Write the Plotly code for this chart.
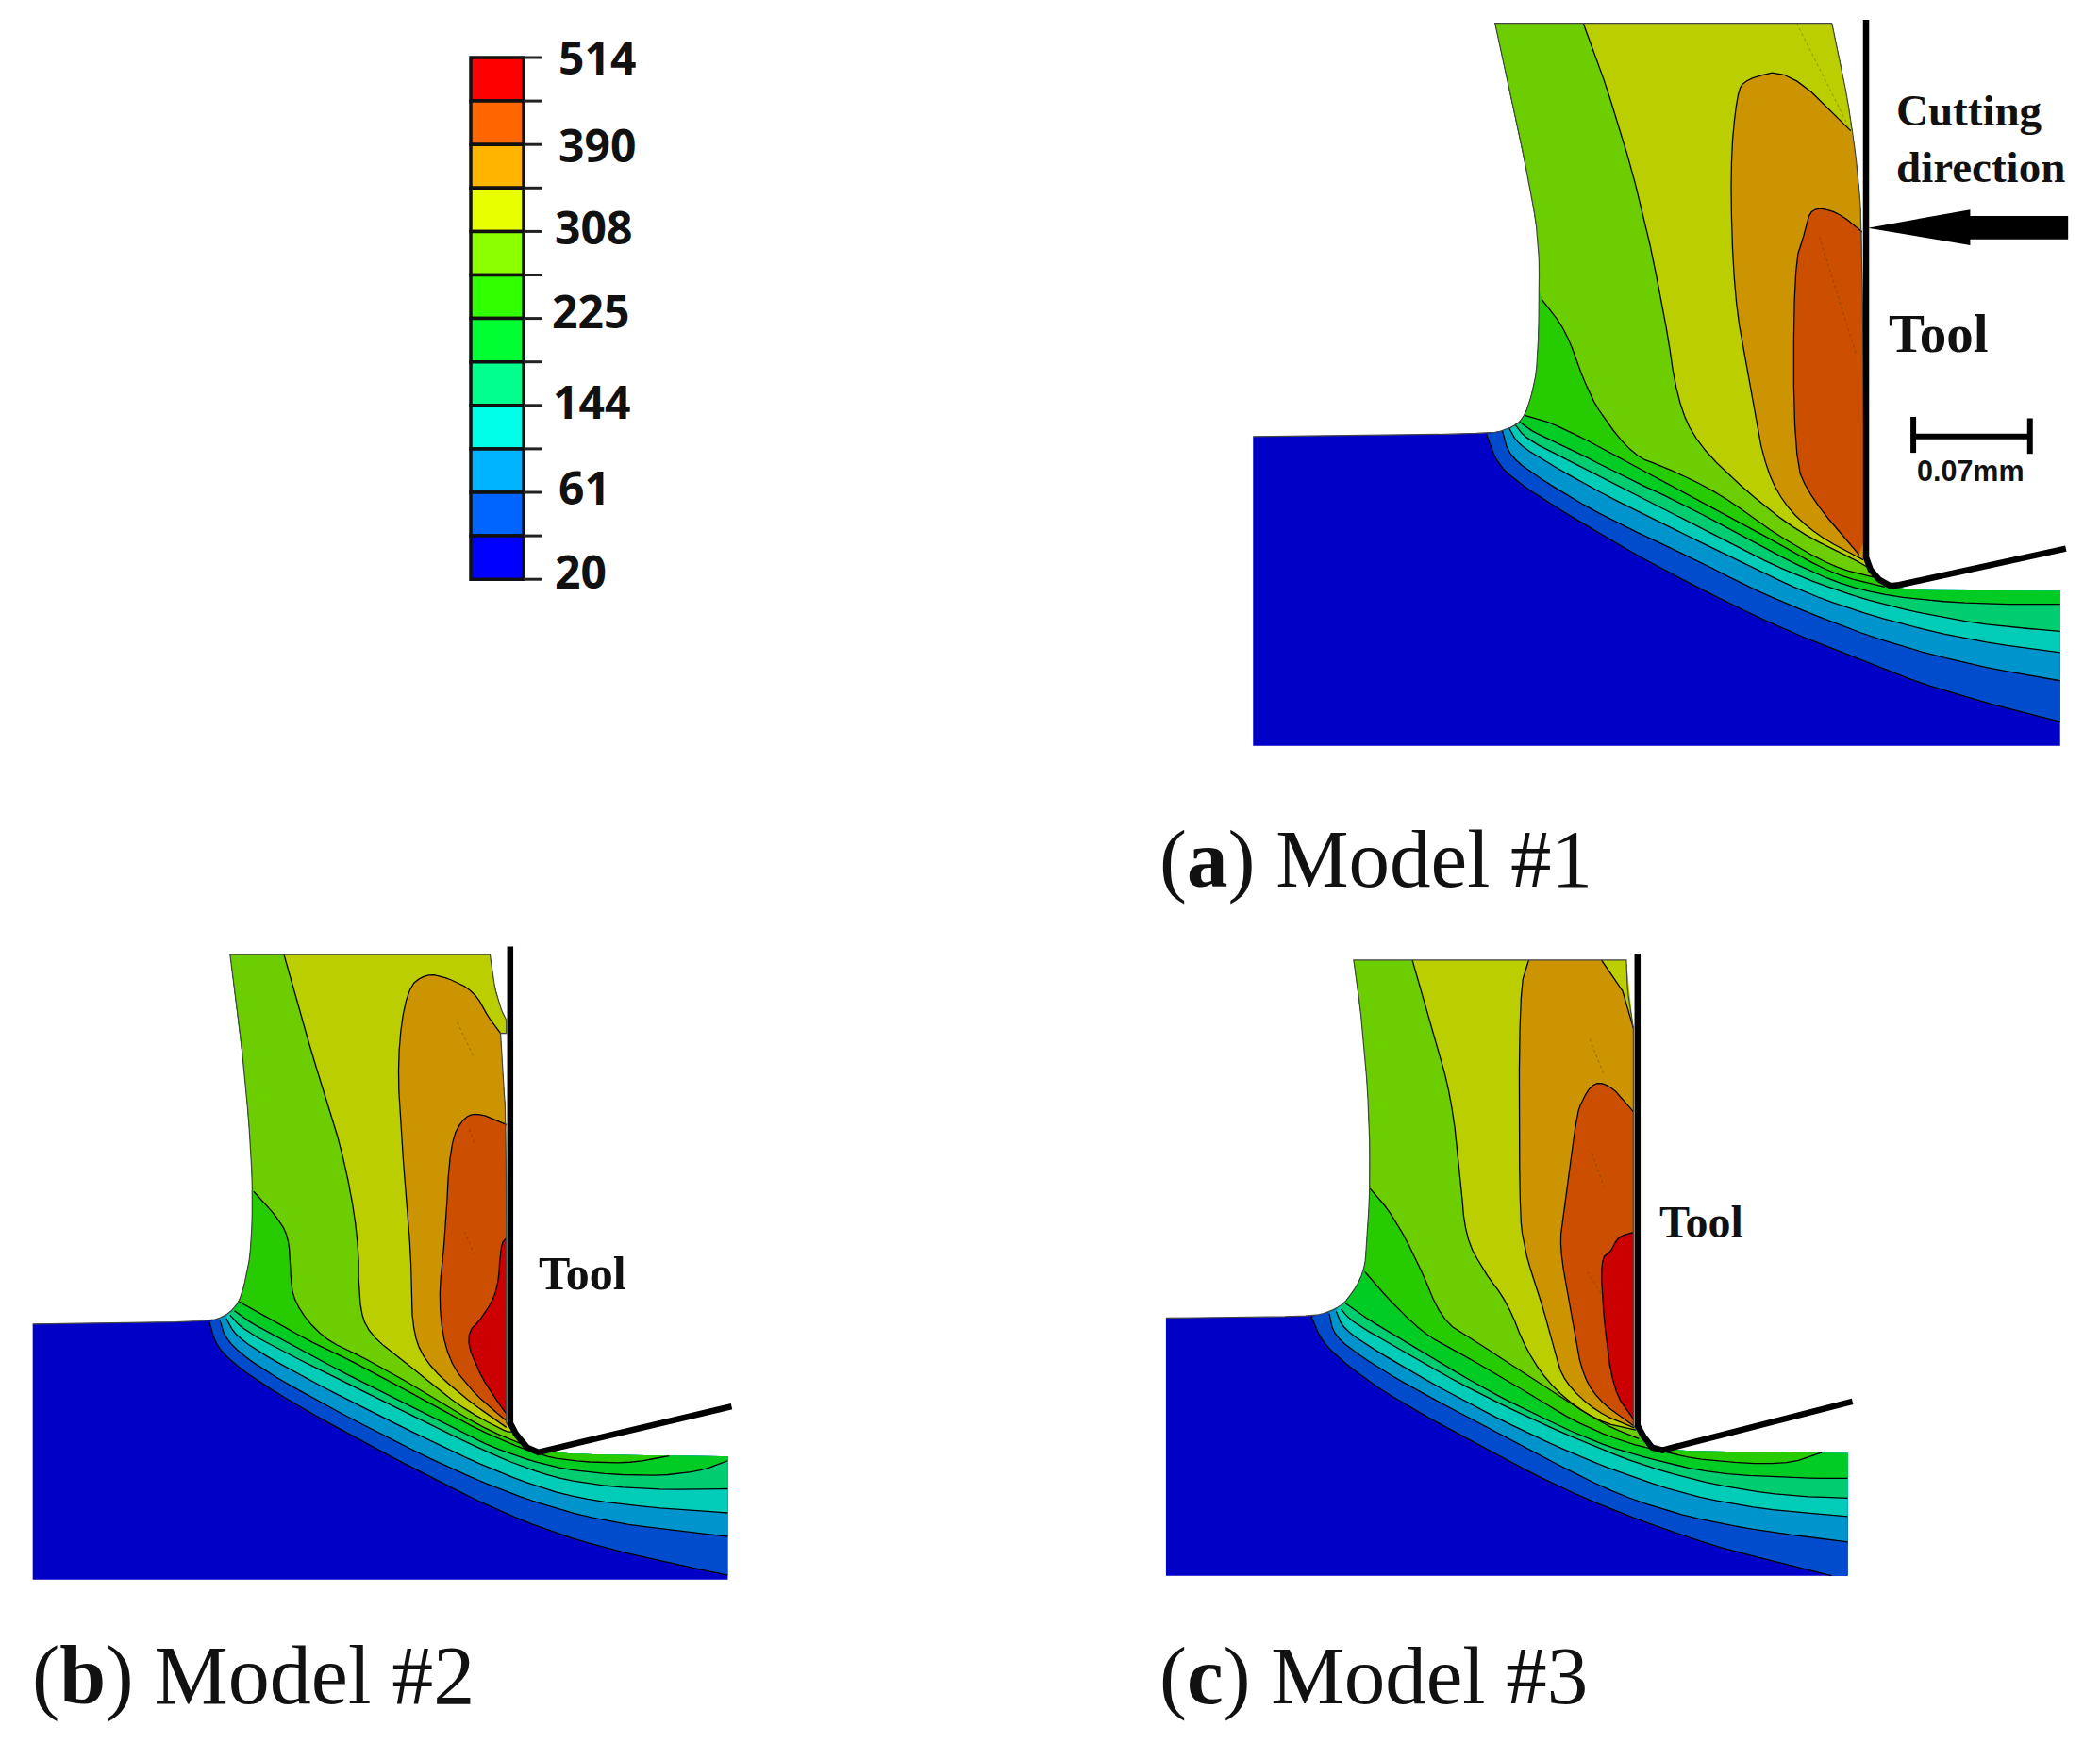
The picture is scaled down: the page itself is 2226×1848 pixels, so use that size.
import plotly.graph_objects as go

W, H = 2226, 1848

# ---------- legend data ----------
legend_labels = ["514", "390", "308", "225", "144", "61", "20"]
legend_colors = ["#FF0000", "#FF6600", "#FFB400", "#E8FF00", "#8CFF00", "#32FF00",
                 "#00FF32", "#00FF8C", "#00FFE8", "#00B4FF", "#0064FF", "#0000FF"]

# ---------- band colours, coldest first ----------
band_colors = ["#0000C6", "#004CCC", "#0094CC", "#00CCB8", "#00CC70", "#00CC24",
               "#26CC00", "#6CCE00", "#BBCE00", "#CC9400", "#CC4E00", "#CC0000"]

# ---------- Model #1 outline and isotherms ----------
a_outline = [(80,885),(490,880),(530,870),(555,850),(570,800),(580,740),(583,600),(582,480),(560,340),
             (530,180),(505,47),(1097,47),(1125,200),(1143,350),(1150,470),(1155,1130),(1180,1175),
             (1215,1198),(1498,1198),(1498,1512),(80,1512)]
a_pins = [10, 11, 15, 18, 19]
a_runs = [(0, 11), (11, 15)]
a_iso = [
    [(490,880),(505,930),(530,965),(600,1020),(730,1110),(850,1185),(1000,1270),(1120,1325),(1250,1385),(1400,1435),(1498,1463)],
    [(518,873),(530,925),(590,975),(700,1050),(850,1130),(950,1190),(1060,1245),(1200,1305),(1350,1350),(1498,1380)],
    [(530,868),(545,900),(600,940),(700,1005),(850,1090),(1000,1175),(1080,1215),(1200,1260),(1350,1300),(1498,1323)],
    [(540,860),(560,890),(620,925),(720,985),(850,1060),(1000,1150),(1100,1195),(1200,1230),(1350,1265),(1498,1280)],
    [(548,855),(570,875),(630,905),(720,960),(850,1030),(1000,1125),(1100,1180),(1200,1210),(1350,1225),(1498,1225)],
    [(557,842),(600,855),(680,900),(750,945),(850,1005),(1000,1100),(1100,1165),(1190,1190)],
    [(587,607),(630,670),(660,770),(690,840),(750,925),(800,945),(900,1000),(1000,1085),(1100,1150),(1170,1170)],
    [(660,47),(700,170),(760,400),(805,650),(825,810),(860,900),(950,1000),(1040,1080),(1130,1130),(1160,1150)],
    [(1130,265),(1020,140),(945,160),(930,190),(918,340),(925,600),(950,760),(975,930),(1010,1020),(1070,1085),(1152,1135)],
    [(1150,470),(1105,428),(1060,420),(1050,470),(1030,540),(1030,930),(1060,1010),(1145,1125)],
]
a_tool = [(1157,40),(1157,1130),(1165,1155),(1180,1175),(1200,1188),(1215,1186),(1508,1112)]
a_faint = [[(1035,47),(1130,265)], [(1075,480),(1140,720)]]

# ---------- Model #2 ----------
b_outline = [(68,898),(430,893),(470,880),(497,850),(510,800),(522,730),(525,600),(520,480),(505,300),
             (490,170),(478,68),(1018,68),(1025,130),(1040,190),(1052,215),(1052,245),(1040,245),
             (1045,350),(1052,440),(1052,1120),(1080,1160),(1115,1190),(1512,1195),(1512,1472),(68,1472)]
b_pins = [10, 11, 14, 15, 16, 19, 22, 23]
b_runs = [(0, 20)]
b_iso = [
    [(435,893),(450,950),(500,1000),(600,1070),(750,1160),(900,1245),(1050,1325),(1200,1385),(1350,1425),(1512,1462)],
    [(457,890),(470,935),(530,990),(650,1065),(800,1150),(950,1230),(1100,1295),(1250,1340),(1400,1362),(1512,1375)],
    [(470,885),(490,925),(560,975),(680,1045),(800,1110),(950,1190),(1080,1250),(1200,1290),(1350,1310),(1512,1322)],
    [(478,878),(505,910),(580,955),(700,1020),(850,1100),(1000,1180),(1100,1225),(1200,1255),(1350,1270),(1512,1268)],
    [(487,868),(520,895),(600,940),(700,1000),(850,1080),(1000,1165),(1100,1205),(1200,1230),(1350,1240),(1450,1230),(1512,1205)],
    [(497,848),(560,885),(640,935),(720,975),(850,1050),(1000,1140),(1115,1190),(1180,1205),(1300,1212),(1390,1194)],
    [(527,600),(570,650),(600,700),(603,780),(610,850),(670,930),(750,970),(850,1030),(1000,1130),(1090,1170)],
    [(590,68),(650,300),(710,500),(745,700),(745,850),(765,920),(850,990),(950,1080),(1050,1140),(1065,1140)],
    [(1040,245),(1015,210),(985,150),(930,120),(885,110),(845,145),(825,300),(835,500),(855,750),(855,900),(880,980),(960,1060),(1052,1130)],
    [(1052,450),(1000,425),(965,430),(935,490),(925,700),(910,850),(930,980),(990,1060),(1052,1115)],
    [(1052,705),(1040,720),(1035,820),(1005,880),(965,925),(1000,1020),(1052,1100)],
]
b_tool = [(1060,50),(1060,1120),(1072,1145),(1095,1175),(1118,1186),(1520,1083)]
b_faint = [[(950,220),(985,300)], [(975,460),(985,490)], [(965,690),(985,740)], [(575,1060),(690,1130)]]

# ---------- Model #3 ----------
c_outline = [(32,875),(340,872),(385,860),(420,835),(455,770),(460,700),(467,580),(465,400),(450,200),
             (432,60),(1013,60),(1015,130),(1028,215),(1028,1120),(1060,1160),(1085,1178),(1485,1183),
             (1485,1462),(32,1462)]
c_pins = [9, 10, 12, 13, 16, 17]
c_runs = [(0, 14)]
c_iso = [
    [(342,872),(365,930),(420,985),(520,1060),(700,1165),(850,1250),(1000,1320),(1200,1395),(1350,1435),(1450,1462)],
    [(380,865),(390,915),(450,965),(550,1030),(700,1115),(850,1200),(1000,1280),(1150,1330),(1300,1360),(1485,1385)],
    [(395,860),(410,900),(480,950),(600,1025),(750,1110),(900,1185),(1020,1235),(1150,1280),(1300,1310),(1485,1327)],
    [(405,855),(430,885),(520,940),(650,1020),(800,1100),(950,1170),(1060,1215),(1200,1255),(1350,1280),(1485,1285)],
    [(415,842),(465,880),(560,940),(700,1030),(800,1085),(950,1160),(1060,1195),(1200,1230),(1400,1240),(1485,1240)],
    [(456,770),(500,825),(580,910),(650,950),(780,1030),(900,1110),(1000,1155),(1085,1178),(1180,1200),(1350,1210),(1430,1181)],
    [(467,580),(515,640),(570,750),(620,880),(680,920),(780,990),(880,1060),(970,1120),(1040,1150)],
    [(557,60),(600,220),(640,370),(660,560),(670,690),(710,770),(760,840),(800,950),(860,1040),(950,1110),(1033,1130)],
    [(805,60),(785,130),(785,620),(795,720),(830,830),(860,950),(880,1020),(950,1090),(1030,1125)],
    [(1028,405),(985,350),(945,335),(915,385),(905,430),(880,640),(870,710),(895,860),(915,990),(950,1060),(1028,1120)],
    [(1028,680),(995,690),(980,725),(958,740),(965,880),(985,1040),(1028,1105)],
]
c_wedge = [(960,60),(1005,130),(1028,215),(1013,60)]
c_tool = [(1037,45),(1037,1120),(1050,1145),(1068,1170),(1090,1176),(1495,1065)]
c_faint = [[(935,240),(965,320)], [(940,500),(965,575)], [(930,770),(960,820)]]

# ---------- pixels per crop unit for each panel ----------
panels = [
    dict(sx=0.6033, sy=0.5230, ox=1280, oy=0, outline=a_outline, pins=a_pins, runs=a_runs, iso=a_iso, tool=a_tool, faint=a_faint),
    dict(sx=0.5102, sy=0.4720, ox=0, oy=980, outline=b_outline, pins=b_pins, runs=b_runs, iso=b_iso, tool=b_tool, faint=b_faint),
    dict(sx=0.4974, sy=0.4656, ox=1220, oy=990, outline=c_outline, pins=c_pins, runs=c_runs, iso=c_iso, tool=c_tool, faint=c_faint),
]

fig = go.Figure()


def poly(points, color):
    fig.add_trace(go.Scatter(x=[p[0] for p in points], y=[p[1] for p in points], mode="lines",
                             fill="toself", fillcolor=color, line=dict(width=0, color=color),
                             hoverinfo="skip", showlegend=False))


def line(points, color="black", width=1.3, dash="solid"):
    fig.add_trace(go.Scatter(x=[p[0] for p in points], y=[p[1] for p in points], mode="lines",
                             line=dict(width=width, color=color, dash=dash), hoverinfo="skip", showlegend=False))


def rounded(pts, passes=2):
    """Corner-cut a traced curve so it draws smoothly; the end points stay put."""
    pts = list(pts)
    for _ in range(passes):
        out = [pts[0]]
        for (x1, y1), (x2, y2) in zip(pts, pts[1:]):
            out.append((0.75 * x1 + 0.25 * x2, 0.75 * y1 + 0.25 * y2))
            out.append((0.25 * x1 + 0.75 * x2, 0.25 * y1 + 0.75 * y2))
        out.append(pts[-1])
        pts = out
    return pts


def rounded_path(pts, pins):
    cuts = [0] + list(pins) + [len(pts) - 1]
    out = []
    for a, b in zip(cuts, cuts[1:]):
        part = rounded(pts[a:b + 1]) if b - a > 1 else list(pts[a:b + 1])
        out.extend(part if not out else part[1:])
    return out


def nearest_seg(pt, path):
    best, bi = 1e18, 0
    for i in range(len(path) - 1):
        (x1, y1), (x2, y2) = path[i], path[i + 1]
        dx, dy = x2 - x1, y2 - y1
        t = max(0, min(1, ((pt[0] - x1) * dx + (pt[1] - y1) * dy) / ((dx * dx + dy * dy) or 1)))
        d = (pt[0] - x1 - t * dx) ** 2 + (pt[1] - y1 - t * dy) ** 2
        if d < best:
            best, bi = d, i
    return bi


def region(iso, path):
    ks, ke = nearest_seg(iso[0], path), nearest_seg(iso[-1], path)
    return list(iso) + [path[i] for i in range(ke, ks, -1)]


for p in panels:
    tr = lambda pts: [(p["ox"] + x * p["sx"], p["oy"] + y * p["sy"]) for x, y in pts]
    raw = p["outline"]
    path = tr(rounded_path(raw, p["pins"]))
    poly(path, band_colors[0])
    isos = [tr(rounded(c)) for c in p["iso"]]
    for i, c in enumerate(isos):
        poly(region(c, path), band_colors[i + 1])
    if raw is c_outline:
        poly(tr(c_wedge), band_colors[8])
    for f in p["faint"]:
        line(tr(f), color="rgba(50,40,0,0.35)", width=1, dash="dot")
    for c in isos:
        line(c)
    if raw is c_outline:
        line(tr(c_wedge[:3]))
    for a, b in p["runs"]:
        line(tr(rounded_path(raw[a:b + 1], [i - a for i in p["pins"] if a < i < b])), color="#444444", width=1.2)
    line(tr(p["tool"]), width=6.5)

# ---------- Cutting-direction arrow and scale bar (Model #1 crop units) ----------
arrow = [(1160,462),(1340,425),(1340,438),(1512,438),(1512,485),(1340,485),(1340,497)]
scale_bar = [(1240,885),(1445,885)]
scale_caps = [[(1240,845),(1240,918)], [(1445,848),(1445,920)]]
pa = panels[0]
tra = lambda pts: [(pa["ox"] + x * pa["sx"], pa["oy"] + y * pa["sy"]) for x, y in pts]
poly(tra(arrow), "black")
line(tra(scale_bar), width=6)
for cap in scale_caps:
    line(tra(cap), width=6)

# ---------- colour legend ----------
leg_top, leg_cell, leg_left, leg_right, tick_end = 61, 46.1, 499, 555, 575
fig.add_trace(go.Bar(x=[(leg_left + leg_right) / 2] * len(legend_colors),
                     y=[leg_cell] * len(legend_colors),
                     base=[leg_top + i * leg_cell for i in range(len(legend_colors))],
                     width=leg_right - leg_left,
                     marker=dict(color=legend_colors, line=dict(color="#111111", width=3.5)),
                     hoverinfo="skip", showlegend=False))
for i in range(len(legend_colors) + 1):
    line([(leg_right, leg_top + i * leg_cell), (tick_end, leg_top + i * leg_cell)], color="#222222", width=3)

legend_x = [590, 590, 586, 583, 584, 590, 586]
legend_y = [60, 153, 240, 329, 425, 516, 605]
annotations = []
for t, x, y in zip(legend_labels, legend_x, legend_y):
    annotations.append(dict(x=x, y=y, text=f"<b>{t}</b>", xanchor="left", yanchor="middle", showarrow=False,
                            font=dict(family="Noto Sans", size=48, color="#111111")))

serif = "Liberation Serif"
free_text = [
    ("<b>Cutting</b>", 2008, 117, 47, serif),
    ("<b>direction</b>", 2008, 177, 47, serif),
    ("<b>Tool</b>", 2000, 353, 57, serif),
    ("<b>Tool</b>", 569, 1350, 50, serif),
    ("<b>Tool</b>", 1757, 1295, 48, serif),
    ("<b>0.07mm</b>", 2030, 499, 30.5, "Liberation Sans"),
    ("(<b>a</b>) Model #1", 1227, 910, 87, serif),
    ("(<b>b</b>) Model #2", 32, 1776, 88, serif),
    ("(<b>c</b>) Model #3", 1227, 1776, 87, serif),
]
for t, x, y, s, fam in free_text:
    annotations.append(dict(x=x, y=y, text=t, xanchor="left", yanchor="middle", showarrow=False,
                            font=dict(family=fam, size=s, color="#111111")))

fig.update_layout(width=W, height=H, margin=dict(l=0, r=0, t=0, b=0), paper_bgcolor="white",
                  plot_bgcolor="white", showlegend=False, annotations=annotations, barmode="overlay",
                  xaxis=dict(range=[0, W], visible=False, fixedrange=True),
                  yaxis=dict(range=[H, 0], visible=False, fixedrange=True))
fig.write_html("out.html", post_script="document.body.style.margin='0';document.body.style.overflow='hidden';",
               config=dict(displayModeBar=False))
